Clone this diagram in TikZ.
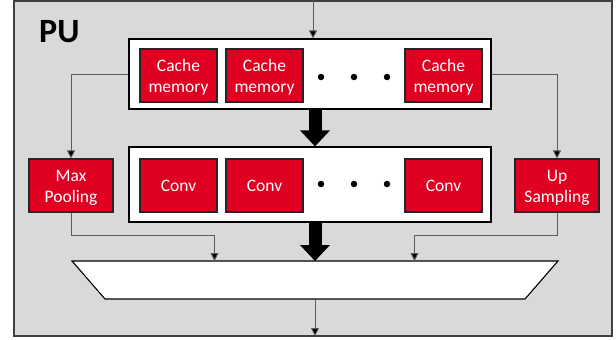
\documentclass[tikz,border=0pt]{standalone}
\usepackage{fontspec}
\setmainfont{Carlito}
\usetikzlibrary{arrows.meta}
\definecolor{puRed}{RGB}{224,0,34}
\definecolor{puGray}{RGB}{217,217,217}
\definecolor{puEdge}{RGB}{64,64,64}
\definecolor{wireGray}{RGB}{90,90,90}
\newcommand{\topstrut}{\rule{0pt}{16pt}}
\tikzset{
  unitbox/.style={draw=black!85, line width=1.1pt, fill=puRed, text=white,
    minimum width=77pt, minimum height=53pt, inner sep=0pt, align=center,
    font=\fontsize{17.5}{21.5}\selectfont},
  sidebox/.style={unitbox, minimum width=84pt},
  bank/.style={draw=black, line width=1.2pt, fill=white, minimum width=362pt, inner sep=0pt},
  conn/.style={draw=wireGray, line width=0.9pt, -{Triangle[length=8pt,width=8pt,fill=black]}},
  fat/.style={draw=black, line width=13pt, -{Triangle[length=16pt,width=29pt]}},
  dot/.style={circle, fill=black, inner sep=0pt, minimum size=6.5pt},
}
\begin{document}
\begin{tikzpicture}[x=1pt,y=-1pt]
\useasboundingbox (0,0) rectangle (616,340);
% processing-unit frame
\draw[fill=puGray, draw=puEdge, line width=2pt] (14,1) rectangle (612,336);
\node[anchor=base west, inner sep=0pt, font=\fontsize{34}{40}\selectfont\bfseries] (pu) at (39,42) {PU};

% cache bank
\node[bank, minimum height=70pt] (top) at (310,74) {};
\node[unitbox] (c1) at (178.5,75.5) {\topstrut Cache\\memory};
\node[unitbox] (c2) at (264.5,75.5) {\topstrut Cache\\memory};
\node[unitbox] (c3) at (443.5,75.5) {\topstrut Cache\\memory};
\node[dot] (cd1) at (321,77) {};
\node[dot] (cd2) at (354,77) {};
\node[dot] (cd3) at (387,77) {};

% convolution bank
\node[bank, minimum height=75pt] (conv) at (310,184.5) {};
\node[unitbox] (v1) at (178.5,185.5) {Conv};
\node[unitbox] (v2) at (264.5,185.5) {Conv};
\node[unitbox] (v3) at (443.5,185.5) {Conv};
\node[dot] (vd1) at (321,184) {};
\node[dot] (vd2) at (354,184) {};
\node[dot] (vd3) at (387,184) {};

% side units
\node[sidebox] (maxp) at (71,185.5) {\topstrut Max\\Pooling};
\node[sidebox] (ups) at (557,185.5) {\topstrut Up\\Sampling};

% merge stage
\draw[fill=white, draw=black, line width=1.1pt] (72,261) -- (558,261) -- (525,299) -- (105,299) -- cycle;
\coordinate (mL) at (214.5,261);
\coordinate (mC) at (315,261);
\coordinate (mR) at (414.5,261);
\coordinate (mOut) at (315,299);
\coordinate (out) at (315,336);
\coordinate (in) at (313,0);
\coordinate (jy) at (0,235);

% data paths
\draw[conn] (in) -- (in |- top.north);
\draw[conn] (top.west) -| (maxp.north);
\draw[conn] (top.east) -| (ups.north);
\draw[fat] (top.south -| 315,0) -- (conv.north -| 315,0);
\draw[fat] (conv.south -| mC) -- (mC);
\draw[conn] (maxp.south) -- (maxp.south |- jy) -| (mL);
\draw[conn] (ups.south) -- (ups.south |- jy) -| (mR);
\draw[conn] (mOut) -- (out);
\end{tikzpicture}
\end{document}
